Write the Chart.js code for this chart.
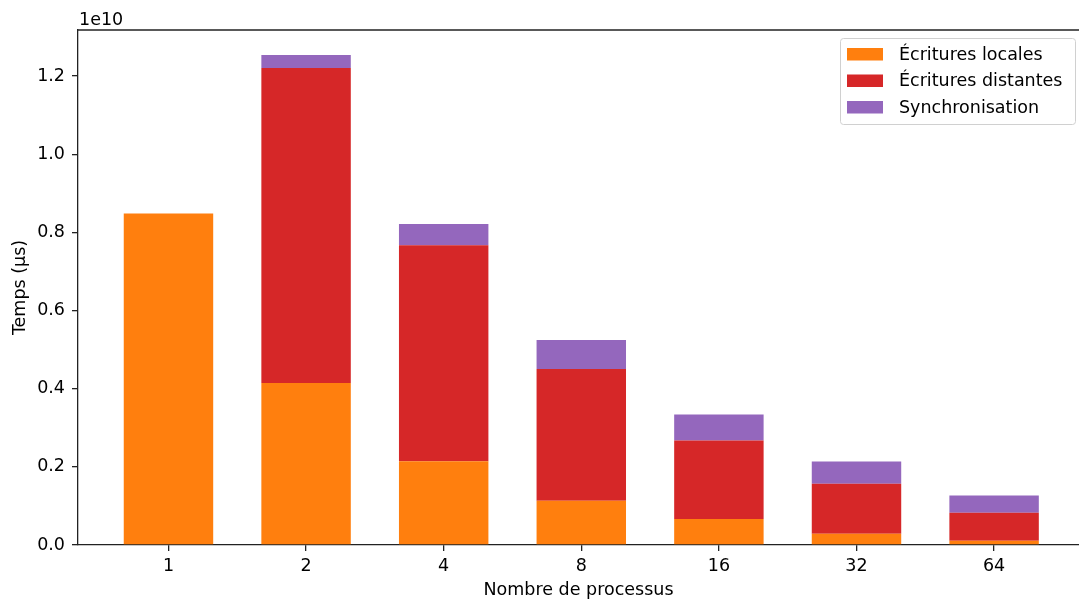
<!DOCTYPE html>
<html>
<head>
<meta charset="utf-8">
<script src="https://cdn.jsdelivr.net/npm/chart.js@4"></script>
<style>
  html, body { margin: 0; padding: 0; background: #ffffff; }
  #wrap { width: 1079px; height: 606px; position: relative; }
</style>
</head>
<body>
<div id="wrap"><canvas id="timeChart"></canvas></div>
<script>
// Temps par phase selon le nombre de processus (µs).
const procLabels = ['1', '2', '4', '8', '16', '32', '64'];

const localWrites  = [8.48e9, 4.145e9, 2.14e9, 1.133e9, 0.665e9, 0.289e9, 0.11e9];
const remoteWrites = [0, 8.06e9, 5.527e9, 3.37e9, 2.011e9, 1.279e9, 0.716e9];
const syncTime     = [0, 0.333e9, 0.547e9, 0.742e9, 0.666e9, 0.571e9, 0.443e9];

const seriesNames  = ['Écritures locales', 'Écritures distantes', 'Synchronisation'];
const seriesColors = ['#ff7f0e', '#d62728', '#9467bd'];

const yTicks = [0, 0.2e10, 0.4e10, 0.6e10, 0.8e10, 1.0e10, 1.2e10];

const FONT = 'DejaVu Sans';
const ink = '#222222';

const toPoints = arr => arr.map((v, i) => ({ x: i, y: v }));

// top spine + "1e10" offset text + legend in the top right
// (the right spine falls just outside the picture)
const frameAndLegend = {
  id: 'frameAndLegend',
  afterDraw(chart) {
    const { ctx, chartArea: a } = chart;
    ctx.save();
    ctx.strokeStyle = ink;
    ctx.lineWidth = 1.3;
    ctx.beginPath();
    ctx.moveTo(a.left, a.top);
    ctx.lineTo(a.right, a.top);
    ctx.stroke();

    ctx.fillStyle = '#000';
    ctx.font = '17.5px "' + FONT + '"';
    ctx.textAlign = 'left';
    ctx.textBaseline = 'alphabetic';
    ctx.fillText('1e10', a.left + 1, 25);

    // legend
    const bx = 840, by = 38, bw = 235, bh = 86;
    ctx.beginPath();
    ctx.roundRect(bx + 0.5, by + 0.5, bw, bh, 3);
    ctx.fillStyle = 'rgba(255,255,255,0.8)';
    ctx.fill();
    ctx.strokeStyle = '#d0d0d0';
    ctx.lineWidth = 1;
    ctx.stroke();
    chart.data.datasets.forEach((ds, i) => {
      const cy = 54 + i * 26.5;
      ctx.fillStyle = ds.backgroundColor;
      ctx.fillRect(847, cy - 6, 36, 12.5);
      ctx.fillStyle = '#000';
      ctx.textBaseline = 'middle';
      ctx.fillText(ds.label, 899, cy + 1);
    });
    ctx.restore();
  }
};

new Chart(document.getElementById('timeChart').getContext('2d'), {
  type: 'bar',
  data: {
    datasets: [
      { label: seriesNames[0], data: toPoints(localWrites),  backgroundColor: seriesColors[0] },
      { label: seriesNames[1], data: toPoints(remoteWrites), backgroundColor: seriesColors[1] },
      { label: seriesNames[2], data: toPoints(syncTime),     backgroundColor: seriesColors[2] }
    ]
  },
  options: {
    responsive: true,
    maintainAspectRatio: false,
    animation: false,
    layout: { padding: { top: 30, right: 0, left: 0, bottom: 0 } },
    datasets: { bar: { categoryPercentage: 1, barPercentage: 0.65, borderWidth: 0 } },
    plugins: {
      legend: { display: false },
      tooltip: { enabled: false }
    },
    scales: {
      x: {
        type: 'linear',
        stacked: true,
        offset: false,
        min: -0.6575,
        max: 6.617,
        afterFit: s => { s.height = 61; },
        grid: { display: true, offset: false, drawOnChartArea: false, drawTicks: true, tickLength: 6, color: ink, lineWidth: 1.3 },
        border: { display: true, color: ink, width: 1.3 },
        ticks: {
          stepSize: 1,
          includeBounds: false,
          padding: 5,
          color: '#000',
          font: { family: FONT, size: 17.5 },
          maxRotation: 0,
          callback: v => procLabels[v] ?? ''
        },
        title: {
          display: true,
          text: 'Nombre de processus',
          color: '#000',
          font: { family: FONT, size: 17.5 },
          padding: { top: 0, bottom: 5.5 }
        }
      },
      y: {
        stacked: true,
        min: 0,
        max: 1.3177e10,
        afterFit: s => { s.width = 78; },
        afterBuildTicks: s => { s.ticks = yTicks.map(v => ({ value: v })); },
        grid: { display: true, drawOnChartArea: false, drawTicks: true, tickLength: 6, color: ink, lineWidth: 1.3 },
        border: { display: true, color: ink, width: 1.3 },
        ticks: {
          padding: 7,
          color: '#000',
          font: { family: FONT, size: 17.5 },
          callback: v => (v / 1e10).toFixed(1)
        },
        title: {
          display: true,
          text: 'Temps (µs)',
          color: '#000',
          font: { family: FONT, size: 17.5 },
          padding: { top: 9.5, bottom: 0 }
        }
      }
    }
  },
  plugins: [frameAndLegend]
});
</script>
</body>
</html>
